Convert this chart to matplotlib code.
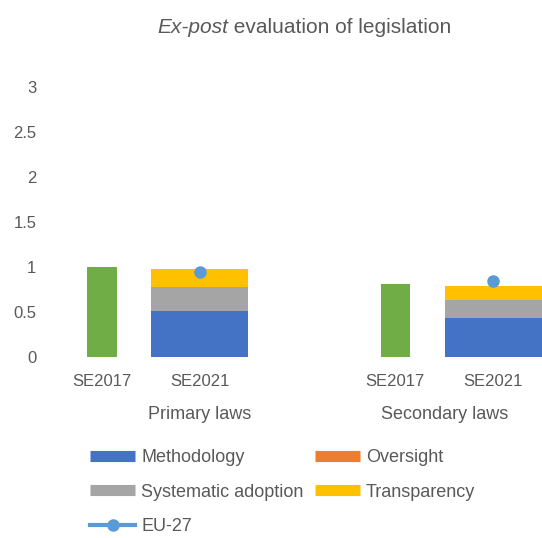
import numpy as np
import matplotlib
matplotlib.use("Agg")
import matplotlib.pyplot as plt
from matplotlib.lines import Line2D

plt.rcParams['font.family'] = ['Liberation Sans', 'DejaVu Sans']

# data
groups = ['Primary laws', 'Secondary laws']
years = ['SE2017', 'SE2021']
se2017 = [1.00, 0.81]
methodology = [0.515, 0.435]
oversight = [0.0, 0.0]
systematic = [0.265, 0.195]
transparency = [0.195, 0.16]
eu27 = [0.94, 0.84]

c_green = '#70AD47'
c_blue = '#4472C4'
c_orange = '#ED7D31'
c_gray = '#A5A5A5'
c_yellow = '#FFC000'
c_dot = '#5B9BD5'
txt = '#595959'

W, H = 542, 538
fig = plt.figure(figsize=(W / 100, H / 100), dpi=100)
ax = fig.add_axes([53 / W, (H - 357) / H, 489 / W, 270 / H])

x17 = np.array([0, 3])
x21 = np.array([1, 4])

ax.bar(x17, se2017, width=0.3, color=c_green)
bottom = np.zeros(2)
for vals, col in [(methodology, c_blue), (oversight, c_orange),
                  (systematic, c_gray), (transparency, c_yellow)]:
    ax.bar(x21, vals, width=0.99, bottom=bottom, color=col)
    bottom += np.array(vals)
ax.plot(x21, eu27, linestyle='none', marker='o', markersize=8, color=c_dot)

ax.set_xlim(-0.5, 4.5)
ax.set_ylim(0, 3)
ax.set_yticks(np.arange(0, 3.01, 0.5))
ax.set_yticklabels(['0', '0.5', '1', '1.5', '2', '2.5', '3'])
ax.set_xticks([0, 1, 3, 4])
ax.set_xticklabels(years * 2)
ax.tick_params(length=0, labelsize=12, colors=txt, pad=12)
ax.tick_params(axis='y', pad=12)
for s in ax.spines.values():
    s.set_visible(False)

# group labels (Excel multi-level axis)
for xpos, g in zip([1, 3.5], groups):
    ax.text(xpos, -0.64, g, ha='center', va='center', fontsize=13,
            color=txt, clip_on=False)

# title with italic first word
ty = 1 - 28 / H
t1 = fig.text(0, ty, 'Ex-post', ha='left', va='center', fontsize=15,
              color=txt, style='italic')
t2 = fig.text(0, ty, ' evaluation of legislation', ha='left', va='center',
              fontsize=15, color=txt)
fig.canvas.draw()
w1 = t1.get_window_extent().width
w2 = t2.get_window_extent().width
x0 = 304 - (w1 + w2) / 2
t1.set_x(x0 / W)
t2.set_x((x0 + w1) / W)

handles = [
    Line2D([], [], color=c_blue, lw=8, solid_capstyle='butt'),
    Line2D([], [], color=c_gray, lw=8, solid_capstyle='butt'),
    Line2D([], [], color=c_dot, lw=3, marker='o', markersize=8),
    Line2D([], [], color=c_orange, lw=8, solid_capstyle='butt'),
    Line2D([], [], color=c_yellow, lw=8, solid_capstyle='butt'),
]
labels = ['Methodology', 'Systematic adoption', 'EU-27', 'Oversight', 'Transparency']
leg = fig.legend(handles, labels, ncol=2, loc='upper left',
                 bbox_to_anchor=(90 / W, 1 - 449 / H), frameon=False,
                 fontsize=13, handlelength=2.5, handletextpad=0.35,
                 columnspacing=0.6, labelspacing=0.98,
                 borderpad=0, borderaxespad=0)
for t in leg.get_texts():
    t.set_color(txt)

fig.savefig('out.png', dpi=100)
